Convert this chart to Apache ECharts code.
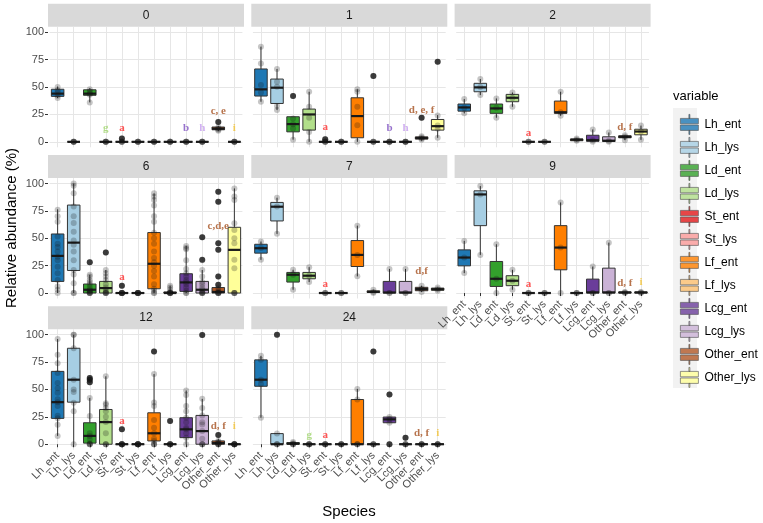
<!DOCTYPE html>
<html>
<head>
<meta charset="utf-8">
<script src="https://cdn.jsdelivr.net/npm/echarts@6/dist/echarts.min.js"></script>
<style>
html, body { margin: 0; padding: 0; background: #fff; }
#chart { width: 763px; height: 523px; }
</style>
</head>
<body>
<div id="chart"></div>
<script>
// species x categories and their fill colours
var categories = ['Lh_ent', 'Lh_lys', 'Ld_ent', 'Ld_lys', 'St_ent', 'St_lys',
                  'Lf_ent', 'Lf_lys', 'Lcg_ent', 'Lcg_lys', 'Other_ent', 'Other_lys'];
var colors = ['#1F78B4', '#A6CEE3', '#33A02C', '#B2DF8A', '#E31A1C', '#FB9A99',
              '#FF7F00', '#FDBF6F', '#6A3D9A', '#CAB2D6', '#B15928', '#FFFF99'];
var letterColors = ['#1F78B4', '#A6CEE3', '#33A02C', '#9ED36A', '#FF2A2A', '#FB9A99',
                    '#FF7F00', '#FDBF6F', '#7D4FC0', '#C49BEE', '#A5501F', '#F2C232'];
var panelNames = ['0', '1', '2', '6', '7', '9', '12', '24'];
var yTicks = [0, 25, 50, 75, 100];

// box stats per panel: [min, q1, median, q3, max] for each species
var box0 = [[40, 41.5, 44, 48, 50.5], [0, 0, 0, 0, 0], [36, 42.5, 44, 47.5, 49], [0, 0, 0, 0, 0],
            [0, 0, 0, 0, 0.5], [0, 0, 0, 0, 0], [0, 0, 0, 0, 0], [0, 0, 0, 0, 0],
            [0, 0, 0, 0, 0], [0, 0, 0, 0, 0], [9.8, 11, 12, 13.5, 14.5], [0, 0, 0, 0, 0]];
var box1 = [[36.6, 41.8, 47.9, 66.5, 86.9], [29, 35, 49.4, 57.3, 66.5], [2, 9.1, 16.2, 22.9, 23], [0, 10.7, 25, 29.9, 45.7],
            [0, 0, 0, 0, 0.5], [0, 0, 0, 0, 0], [0, 3.7, 23.5, 40.2, 47.9], [0, 0, 0, 0, 0],
            [0, 0, 0, 0, 0], [0, 0, 0, 0, 0], [1, 2.5, 3.5, 4.5, 5], [3.7, 10.7, 14.3, 20.4, 24.4]];
var box2 = [[26, 28, 31.4, 34.5, 39], [42.7, 45.7, 49.7, 53.4, 57.3], [22, 26, 30.5, 34.5, 39.6], [32, 36.6, 40.2, 43.3, 45],
            [0, 0, 0, 0, 0], [0, 0, 0, 0, 0], [23.8, 26, 27, 37.2, 45.7], [0.5, 1, 2, 2.5, 3],
            [0, 0.5, 1.5, 6, 11.3], [0, 0.3, 1, 4.6, 8.5], [1.5, 3.7, 4.6, 5.5, 6], [1.8, 6.4, 9.4, 11.5, 14.8]];
var box6 = [[0, 10.6, 33.9, 53.9, 76.4], [0, 20.6, 46, 80.3, 100], [0, 0, 3, 8.2, 16.7], [0, 0, 4.5, 10.6, 21],
            [0, 0, 0, 0, 0.5], [0, 0, 0, 0, 0], [0, 3.9, 26.7, 55.2, 90.9], [0, 0, 0, 1, 6.7],
            [0, 1.5, 9.7, 17.6, 43], [0, 0, 3, 10.6, 21], [0, 0, 1, 5, 6], [0, 0, 39.4, 60, 95.5]];
var box7 = [[30.3, 36.4, 40.9, 44.5, 47], [54, 65.8, 78.8, 82.7, 87], [3, 10, 16.7, 18.8, 21.2], [10, 13, 15.8, 18.8, 23.6],
            [0, 0, 0, 0, 0], [0, 0, 0, 0, 0], [15.2, 24.2, 34.8, 47.9, 61.5], [0, 0.5, 1, 2, 3],
            [0, 0, 0.5, 10.6, 22], [0, 0, 0.5, 10.6, 22], [1, 2.1, 3.6, 5.2, 6.7], [2, 2.5, 3.5, 4.5, 5]];
var box9 = [[18.2, 24.8, 32.4, 39.4, 47.6], [34.8, 61.5, 90, 93.3, 97.6], [0, 6, 13, 28.8, 44.5], [3, 6.7, 11.2, 15.8, 21.2],
            [0, 0, 0, 0, 0], [0, 0, 0, 0, 0], [0, 21.2, 41.5, 61.5, 82.7], [0, 0, 0, 0, 0],
            [0, 0, 0.6, 12.7, 24.2], [0, 0, 0.6, 22.7, 46], [0, 0, 0.5, 1, 1], [0, 0, 0.5, 1, 1]];
var box12 = [[7.6, 23.6, 38.4, 66.5, 96], [0, 38.4, 58.9, 87.6, 100], [0, 1, 7.6, 19.6, 42.3], [0, 0, 20.2, 31.7, 62],
             [0, 0, 0, 0, 0], [0, 0, 0, 0, 0], [0, 3, 10, 28.7, 64], [0, 0, 0, 0, 0],
             [0, 6, 13.6, 24.2, 49], [0, 0, 12, 26.3, 41.4], [0, 0, 1, 3, 5], [0, 0, 0, 0, 0]];
var box24 = [[24.2, 52.9, 58.9, 77, 80.7], [0, 0, 0, 9.7, 9.7], [0, 0, 0.5, 1.5, 2], [0, 0, 0, 0, 0],
             [0, 0, 0, 0, 0], [0, 0, 0, 0, 0], [0, 0, 0, 40.8, 50.5], [0, 0, 0, 0, 0],
             [19.6, 19.6, 22.7, 24.8, 24.8], [0, 0, 0, 0, 0], [0, 0, 0, 0, 0], [0, 0, 0, 0, 0]];

// raw observations (grey dots), one list per species
var pts0 = [[40, 42, 45, 47, 50], [0, 0, 0, 0, 0], [36, 43, 44, 46, 48], [0, 0, 0, 0, 0], [0, 0, 0, 0, 3], [0, 0, 0, 0, 0],
            [0, 0, 0, 0, 0], [0, 0, 0, 0, 0], [0, 0, 0, 0, 0], [0, 0, 0, 0, 0], [10, 11, 12, 13, 18], [0, 0, 0, 0, 0]];
var pts1 = [[36.6, 45, 51.8, 71.6, 86.9], [29, 32.6, 50.3, 54.9, 66.5], [2, 12.2, 16, 21.3, 41.8], [0, 9, 22, 32, 45.7],
            [0, 0, 0, 0, 2.4], [0, 0, 0, 0, 0], [0, 15.2, 32, 45.7, 47.9], [0, 0, 0, 0, 60],
            [0, 0, 0, 0, 0], [0, 0, 0, 0, 0], [2, 3, 4, 5, 22], [3.7, 12, 15, 24, 73]];
var pts2 = [[26, 31, 39], [42.7, 50, 57.3], [22, 31, 39.6], [32, 40, 45], [0, 0, 0], [0, 0, 0],
            [23.8, 27, 45.7], [1, 2, 3], [0, 1.5, 11.3], [0, 1, 8.5], [1.5, 4.6, 6], [1.8, 9.4, 14.8]];
var pts6 = [[0, 3, 6, 12, 18, 24, 30, 33, 38, 42, 45, 51.5, 65, 70, 76],
            [0, 0, 9, 17, 21, 30, 38, 44, 48, 56, 64, 70, 79, 91, 98, 100],
            [0, 0, 0, 0, 1, 2, 3, 5, 8, 10, 12, 15, 16.7, 28],
            [0, 0, 0, 0, 1, 3, 5, 8, 12, 15, 18, 21, 37],
            [0, 0, 0, 0, 0, 0, 0, 0, 6.7],
            [0, 0, 0, 0, 0, 0, 0, 0],
            [0, 0, 2, 4, 8, 15, 20, 25, 28, 32, 38, 45, 50, 55, 65, 70, 80, 85, 88, 91],
            [0, 0, 0, 0, 0, 0, 1, 3, 5, 6.7],
            [0, 0, 2, 5, 8, 10, 12, 15, 18, 22, 30, 40, 41, 43],
            [0, 0, 0, 0, 1, 3, 5, 8, 10, 15, 21, 30, 51],
            [0, 0, 0, 0, 0, 1, 2, 5, 7.6, 15, 39.4, 45.5, 83.3, 92.4],
            [0, 0, 0, 0, 22.7, 30.3, 45.5, 50, 57.6, 63.6, 85, 88, 95.5]];
var pts7 = [[30.3, 41, 47], [54, 79, 87], [3, 16.7, 21.2], [10, 15.8, 23.6], [0, 0, 0], [0, 0, 0],
            [15.2, 34.8, 61.5], [0, 1, 3], [0, 0, 22], [0, 0, 22], [1, 3.6, 6.7], [2, 3.5, 5]];
var pts9 = [[18.2, 32.4, 47.6], [34.8, 90, 97.6], [0, 13, 44.5], [3, 11.2, 21.2], [0, 0, 0], [0, 0, 0],
            [0, 41.5, 82.7], [0, 0, 0], [0, 0, 24.2], [0, 0, 46], [0, 0.5, 1], [0, 0.5, 1]];
var pts12 = [[7.6, 17.8, 23.6, 26, 35, 38.4, 41, 47, 51, 56, 65, 74, 81.6, 96],
             [0, 30, 37.8, 47.7, 50, 58.9, 87.6, 100, 100],
             [0, 0, 0, 1, 4.5, 7.6, 10, 25.7, 42.3, 56.5, 58.9, 60.4],
             [0, 0, 0, 10, 20.2, 25, 30, 33, 36, 37.5, 62],
             [0, 0, 0, 0, 0, 0, 0, 0, 13.6],
             [0, 0, 0, 0, 0, 0, 0, 0, 0],
             [0, 0, 0, 3, 5, 10, 15, 22, 35, 38, 64, 84.6],
             [0, 0, 0, 0, 0, 0, 0, 21.1],
             [0, 6, 10, 13.6, 15, 20, 24.2, 30, 35, 45, 49],
             [0, 0, 0, 5, 12, 18, 20, 26.3, 33, 41.4, 99.7],
             [0, 0, 0, 0, 1, 2, 3, 8.5],
             [0, 0, 0, 0, 0, 0, 0, 0]];
var pts24 = [[24.2, 55, 58.9, 77, 80.7], [0, 0, 0, 9.7, 100], [0, 0, 0, 1, 2], [0, 0, 0, 0, 0], [0, 0, 0, 0, 0], [0, 0, 0, 0, 0],
             [0, 0, 0, 40.8, 50.5], [0, 0, 0, 0, 84.6], [0, 19.6, 22.7, 24.8, 45.3], [0, 0, 0, 0, 6], [0, 0, 0, 0, 0], [0, 0, 0, 0, 0]];

// outliers (black dots): [species index, value]
var out0 = [[4, 3], [10, 18]];
var out1 = [[2, 41.8], [4, 2.4], [7, 60], [10, 22], [11, 73]];
var out2 = [];
var out6 = [[2, 28], [3, 37], [4, 6.7], [9, 30.3], [9, 51], [10, 7.6], [10, 15], [10, 39.4], [10, 45.5], [10, 83.3], [10, 92.4]];
var out7 = [];
var out9 = [];
var out12 = [[2, 56.5], [2, 58.9], [2, 60.4], [4, 13.6], [6, 84.6], [7, 21.1], [9, 99.7], [10, 8.5]];
var out24 = [[1, 100], [7, 84.6], [8, 45.3], [8, 0], [9, 6]];

// significance letters: [species index, height, text]
var let0 = [[3, 12.8, 'g'], [4, 12.8, 'a'], [8, 12.8, 'b'], [9, 12.8, 'h'], [10, 28, 'c, e'], [11, 12.8, 'i']];
var let1 = [[4, 13.7, 'a'], [8, 12.2, 'b'], [9, 12.2, 'h'], [10, 29, 'd, e, f']];
var let2 = [[4, 8.2, 'a'], [10, 13.7, 'd, f']];
var let6 = [[4, 14.5, 'a'], [10, 60.6, 'c,d,e']];
var let7 = [[4, 8.2, 'a'], [10, 20.3, 'd,f']];
var let9 = [[4, 8.2, 'a'], [10, 9.1, 'd, f'], [11, 10, 'i']];
var let12 = [[4, 21.1, 'a'], [10, 16.6, 'd, f'], [11, 16.6, 'i']];
var let24 = [[3, 8.2, 'g'], [4, 8.2, 'a'], [10, 10, 'd, f'], [11, 10, 'i']];

var boxes = [box0, box1, box2, box6, box7, box9, box12, box24];
var points = [pts0, pts1, pts2, pts6, pts7, pts9, pts12, pts24];
var outliers = [out0, out1, out2, out6, out7, out9, out12, out24];
var letters = [let0, let1, let2, let6, let7, let9, let12, let24];

// facet layout (pixels)
var FONT = 'Liberation Sans, Arial, sans-serif';
var panelX0 = 48, panelDX = 203.3, panelW = 196;
var panelY0 = 26.8, panelDY = 151.2, panelH = 120.5, stripH = 23;
var band = panelW / 12.2;

function renderBox(params, api) {
    var i = api.value(0);
    var w = api.size([1, 0])[0] * 0.78;
    var lo = api.coord([i, api.value(1)]);
    var q1 = api.coord([i, api.value(2)]);
    var md = api.coord([i, api.value(3)]);
    var q3 = api.coord([i, api.value(4)]);
    var hi = api.coord([i, api.value(5)]);
    var x = lo[0];
    var edge = '#333333';
    return {
        type: 'group',
        children: [
            { type: 'line', shape: { x1: x, y1: lo[1], x2: x, y2: q1[1] }, style: { stroke: edge, lineWidth: 1 } },
            { type: 'line', shape: { x1: x, y1: q3[1], x2: x, y2: hi[1] }, style: { stroke: edge, lineWidth: 1 } },
            { type: 'rect', shape: { x: x - w / 2, y: q3[1], width: w, height: Math.max(q1[1] - q3[1], 0) },
              style: { fill: colors[i], stroke: edge, lineWidth: 1 } },
            { type: 'line', shape: { x1: x - w / 2, y1: md[1], x2: x + w / 2, y2: md[1] },
              style: { stroke: '#1a1a1a', lineWidth: 2.2 } }
        ]
    };
}

var grids = [], xAxes = [], yAxes = [], series = [], graphics = [];

panelNames.forEach(function (name, p) {
    var row = Math.floor(p / 3), col = p % 3;
    var left = panelX0 + panelDX * col;
    var top = panelY0 + panelDY * row;
    var showX = (p >= 5);
    var showY = (col === 0);

    grids.push({ left: left + band * 0.1, top: top, width: band * 12, height: panelH });

    xAxes.push({
        type: 'category', gridIndex: p, data: categories,
        axisLine: { show: false },
        axisTick: { show: showX, alignWithLabel: true, length: 3, lineStyle: { color: '#333' } },
        axisLabel: { show: showX, interval: 0, rotate: 45, margin: 4, fontSize: 11, color: '#4D4D4D', fontFamily: FONT },
        splitLine: { show: true, alignWithLabel: true, lineStyle: { color: '#E6E6E6', width: 1 } }
    });
    yAxes.push({
        type: 'value', gridIndex: p, min: -5, max: 105, offset: band * 0.1,
        axisLine: { show: false },
        axisTick: { show: showY, length: 3, customValues: yTicks, lineStyle: { color: '#333' } },
        axisLabel: { show: showY, customValues: yTicks, margin: 4, fontSize: 11, color: '#4D4D4D', fontFamily: FONT },
        splitLine: { show: true, lineStyle: { color: '#E6E6E6', width: 1 } }
    });

    series.push({
        type: 'custom', xAxisIndex: p, yAxisIndex: p, z: 2, silent: true,
        renderItem: renderBox,
        data: boxes[p].map(function (b, i) { return [i].concat(b); })
    });
    series.push({
        type: 'scatter', xAxisIndex: p, yAxisIndex: p, z: 3, silent: true,
        symbolSize: 6, itemStyle: { color: '#1a1a1a' },
        data: outliers[p]
    });
    var obs = [];
    points[p].forEach(function (list, i) {
        list.forEach(function (v) { obs.push([i, v]); });
    });
    series.push({
        type: 'scatter', xAxisIndex: p, yAxisIndex: p, z: 4, silent: true,
        symbolSize: 6, itemStyle: { color: 'rgba(20,20,20,0.3)' },
        data: obs
    });
    series.push({
        type: 'scatter', xAxisIndex: p, yAxisIndex: p, z: 5, silent: true,
        symbolSize: 1, itemStyle: { color: 'rgba(0,0,0,0)' },
        label: { show: true, position: 'inside', fontFamily: 'Liberation Serif, serif', fontWeight: 'bold', fontSize: 11 },
        data: letters[p].map(function (l) {
            return { value: [l[0], l[1]], label: { formatter: l[2], color: letterColors[l[0]] } };
        })
    });

    // facet strip
    graphics.push({ type: 'rect', shape: { x: left, y: top - stripH, width: panelW, height: stripH },
                    style: { fill: '#D9D9D9' }, silent: true });
    graphics.push({ type: 'text', x: left + panelW / 2, y: top - stripH / 2,
                    style: { text: name, font: '12px ' + FONT, fill: '#1A1A1A',
                             align: 'center', verticalAlign: 'middle', textAlign: 'center', textVerticalAlign: 'middle' },
                    silent: true });
});

// legend entries (empty series carry the names and colours)
categories.forEach(function (c, i) {
    series.push({ type: 'scatter', name: c, xAxisIndex: 0, yAxisIndex: 0, data: [], itemStyle: { color: colors[i] } });
});

graphics.push({ type: 'rect', shape: { x: 673, y: 108, width: 24, height: 280 }, style: { fill: '#F2F2F2' }, silent: true });
graphics.push({ type: 'text', x: 673, y: 96,
                style: { text: 'variable', font: '13px ' + FONT, fill: '#000',
                         align: 'left', verticalAlign: 'middle', textAlign: 'left', textVerticalAlign: 'middle' } });
graphics.push({ type: 'text', x: 12, y: 228, rotation: Math.PI / 2,
                style: { text: 'Relative abundance (%)', font: '15px ' + FONT, fill: '#000',
                         align: 'center', verticalAlign: 'middle', textAlign: 'center', textVerticalAlign: 'middle' } });
graphics.push({ type: 'text', x: 349, y: 512,
                style: { text: 'Species', font: '15px ' + FONT, fill: '#000',
                         align: 'center', verticalAlign: 'middle', textAlign: 'center', textVerticalAlign: 'middle' } });

var chart = echarts.init(document.getElementById('chart'), null, { renderer: 'canvas' });
chart.setOption({
    animation: false,
    backgroundColor: '#ffffff',
    grid: grids,
    xAxis: xAxes,
    yAxis: yAxes,
    series: series,
    graphic: graphics,
    legend: {
        orient: 'vertical', left: 675, top: 109,
        itemWidth: 18, itemHeight: 21, itemGap: 2.2,
        icon: 'path://M1,4H19V9.4H1Z M1,10.6H19V16H1Z M9.5,0H10.5V4H9.5Z M9.5,16H10.5V20H9.5Z',
        itemStyle: { borderColor: '#555555', borderWidth: 0.8 },
        textStyle: { fontSize: 12, color: '#000', fontFamily: FONT, padding: [0, 0, 0, 1] },
        selectedMode: false,
        data: categories
    }
});
</script>
</body>
</html>
